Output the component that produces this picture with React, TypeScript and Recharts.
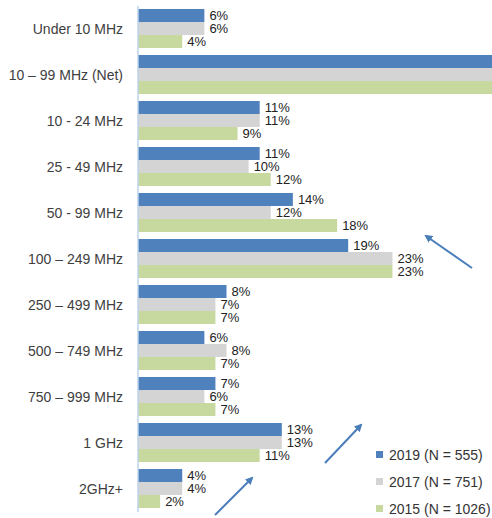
import React from 'react';
import { BarChart, Bar, XAxis, YAxis, LabelList } from 'recharts';

const categories = [
  'Under 10 MHz',
  '10 – 99 MHz (Net)',
  '10 - 24 MHz',
  '25 - 49 MHz',
  '50 - 99 MHz',
  '100 – 249 MHz',
  '250 – 499 MHz',
  '500 – 749 MHz',
  '750 – 999 MHz',
  '1 GHz',
  '2GHz+',
];

// net row runs off the chart in the picture, no labels shown there
const values2019 = [6, 36, 11, 11, 14, 19, 8, 6, 7, 13, 4];
const values2017 = [6, 33, 11, 10, 12, 23, 7, 8, 6, 13, 4];
const values2015 = [4, 39, 9, 12, 18, 23, 7, 7, 7, 11, 2];
const hiddenLabelRows = ['10 – 99 MHz (Net)'];

const seriesNames = ['2019 (N = 555)', '2017 (N = 751)', '2015 (N = 1026)'];
const colors = ['#4f81bd', '#d4d4d4', '#c8d9a0'];

const pct = (cat: string, v: number) => (hiddenLabelRows.includes(cat) ? '' : `${v}%`);

const data = categories.map((cat, i) => ({
  name: cat,
  s2019: values2019[i],
  s2017: values2017[i],
  s2015: values2015[i],
  l2019: pct(cat, values2019[i]),
  l2017: pct(cat, values2017[i]),
  l2015: pct(cat, values2015[i]),
}));

const font = '"Liberation Sans", Arial, sans-serif';

const LegendBox = () => (
  <div style={{ position: 'absolute', left: 376, top: 441, fontFamily: font, fontSize: 14, color: '#333' }}>
    {seriesNames.map((n, i) => (
      <div key={n} style={{ display: 'flex', alignItems: 'center', height: 27 }}>
        <span style={{ width: 7, height: 7, background: colors[i], marginRight: 6, display: 'inline-block' }} />
        {n}
      </div>
    ))}
  </div>
);

const Arrow = ({ x1, y1, x2, y2 }: { x1: number; y1: number; x2: number; y2: number }) => (
  <line x1={x1} y1={y1} x2={x2} y2={y2} stroke="#4a7ebb" strokeWidth={2} markerEnd="url(#ah)" />
);

export default function App() {
  const keys = ['s2019', 's2017', 's2015'];
  const labelKeys = ['l2019', 'l2017', 'l2015'];
  return (
    <div style={{ position: 'absolute', left: 0, top: 0, width: 492, height: 518, background: '#fff' }}>
      <BarChart
        width={492}
        height={518}
        data={data}
        layout="vertical"
        margin={{ top: 6, right: 0, bottom: 6, left: 0 }}
        barGap={0}
        barCategoryGap={3}
      >
        <XAxis type="number" domain={[0, 32]} allowDataOverflow hide />
        <YAxis
          type="category"
          dataKey="name"
          width={138}
          tickLine={false}
          tickSize={6}
          tickMargin={9}
          axisLine={{ stroke: '#bcd5ea', strokeWidth: 1.5 }}
          tick={{ fontSize: 14, fill: '#404040', fontFamily: font }}
          interval={0}
        />
        {keys.map((k, i) => (
          <Bar key={k} dataKey={k} name={seriesNames[i]} fill={colors[i]} isAnimationActive={false}>
            <LabelList
              dataKey={labelKeys[i]}
              position="right"
              offset={5}
              style={{ fontSize: 13, fill: '#222', fontFamily: font }}
            />
          </Bar>
        ))}
      </BarChart>
      <LegendBox />
      <svg width={492} height={518} style={{ position: 'absolute', left: 0, top: 0, pointerEvents: 'none' }}>
        <defs>
          <marker id="ah" markerWidth="8" markerHeight="8" refX="6" refY="4" orient="auto" markerUnits="userSpaceOnUse">
            <path d="M0,0 L8,4 L0,8 z" fill="#4a7ebb" />
          </marker>
        </defs>
        <Arrow x1={472} y1={268} x2={426} y2={236} />
        <Arrow x1={325} y1={463} x2={361} y2={425} />
        <Arrow x1={215} y1={515} x2={252} y2={478} />
      </svg>
    </div>
  );
}
